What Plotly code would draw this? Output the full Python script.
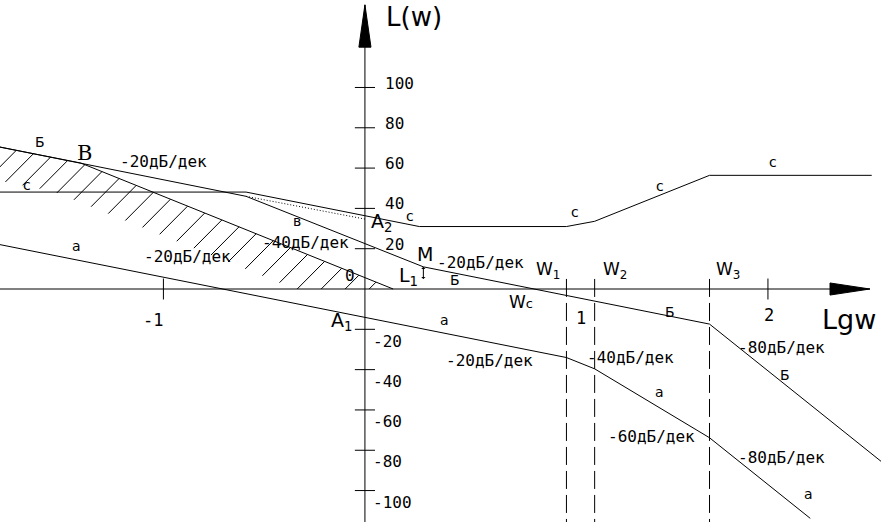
import plotly.graph_objects as go

# ---------------- data (lg w  ->  L, dB) ----------------
X_RANGE = [-1.811, 2.561]
Y_RANGE = [-115.6, 143.4]

LG_W = [1.0, 1.14, 1.71]          # W1, W2, W3
W_NAMES = ["W<sub>1</sub>", "W<sub>2</sub>", "W<sub>3</sub>"]

# curve а (initial system)
A_LG = [-1.82, 1.0, 1.14, 1.71, 2.21]
A_L = [22.2, -34.0, -39.6, -73.8, -113.8]

# curve б, low-frequency part (solid then dotted down to A2)
B_UP_LG = [-1.82, -0.59]
B_UP_L = [70.6, 46.0]
B_DOT_LG = [-0.59, 0.0]
B_DOT_L = [46.0, 34.7]

# curve в (-40 dB/dec) to M
V_LG = [-0.59, 0.29]
V_L = [46.0, 11.0]

# curve б, mid/high-frequency part
B_LO_LG = [0.29, 1.71, 2.57]
B_LO_L = [11.0, -17.4, -86.2]

# curve с (correction)
C_LG = [-1.82, -0.59, 0.27, 1.0, 1.14, 1.71, 2.515]
C_L = [48.1, 48.1, 31.0, 31.0, 33.6, 56.4, 56.4]

# boundary of the forbidden (hatched) region through B
H_LG = [-1.82, -1.41, 0.14]
H_L = [70.6, 62.5, 0.0]

# axis ticks
Y_TICKS = [100, 80, 60, 40, 20, -20, -40, -60, -80, -100]
Y_TICK_LABELS = ["100", "80", "60", "40", "20", "-20", "-40", "-60", "-80", "-100"]
X_TICKS = [-1, 2]
X_TICK_VALUES = [-1, 1, 2]
X_TICK_LABELS = ["-1", "1", "2"]

# ---------------- figure ----------------
BLACK = "black"
fig = go.Figure()

def line(xs, ys, dash="solid", width=1):
    fig.add_trace(go.Scatter(x=xs, y=ys, mode="lines",
                             line=dict(color=BLACK, width=width, dash=dash),
                             hoverinfo="skip"))

def boundary(x):
    for i in range(len(H_LG) - 1):
        x0, x1 = H_LG[i], H_LG[i + 1]
        if x0 <= x <= x1:
            return H_L[i] + (H_L[i + 1] - H_L[i]) * (x - x0) / (x1 - x0)
    return None

# hatch strokes hanging below the boundary line (45 degrees on screen)
STEP, DX, DY = 0.085, -0.139, -14.0
hx, hy = [], []
x = H_LG[0] + 0.09
while x < H_LG[-1]:
    top = boundary(x)
    if top is not None and top > 0.5:
        f = 1.0 if top + DY >= 0 else top / -DY
        hx += [x, x + DX * f, None]
        hy += [top, top + DY * f, None]
    x += STEP
fig.add_trace(go.Scatter(x=hx, y=hy, mode="lines",
                         line=dict(color=BLACK, width=1), hoverinfo="skip"))

line(H_LG, H_L)
line(A_LG, A_L)
line(B_UP_LG, B_UP_L)
line(B_DOT_LG, B_DOT_L, dash="1px,2px")
line(V_LG, V_L)
line(B_LO_LG, B_LO_L)
line(C_LG, C_L)

# axes
x_tip, x_base, x_half = 2.506, 2.308, 3.0
y_tip, y_base, y_half = 141.0, 120.0, 0.03
line([X_RANGE[0], x_tip], [0, 0])
line([0, 0], [Y_RANGE[0], y_tip])
for xs, ys in (([x_tip, x_base, x_base, x_tip], [0, x_half, -x_half, 0]),
               ([0, -y_half, y_half, 0], [y_tip, y_base, y_base, y_tip])):
    fig.add_trace(go.Scatter(x=xs, y=ys, mode="lines", fill="toself",
                             fillcolor=BLACK, line=dict(color=BLACK, width=1),
                             hoverinfo="skip"))

# tick marks
for v in Y_TICKS:
    line([-0.05, 0.05], [v, v])
for v in X_TICKS:
    line([v, v], [-5.2, 5.2])

# dashed verticals at W1, W2, W3
for w in LG_W:
    line([w, w], [5.0, Y_RANGE[0]], dash="18px,6px")

# L1 marker at M
fig.add_annotation(x=V_LG[1], y=V_L[1], ax=V_LG[1], ay=0, xref="x", yref="y",
                   axref="x", ayref="y", showarrow=True, arrowhead=1,
                   arrowside="end+start", arrowsize=0.7, arrowwidth=1,
                   arrowcolor=BLACK, text=" ")

MONO = "DejaVu Sans Mono"
SANS = "DejaVu Sans"
SERIF = "DejaVu Serif"

def txt(s, x, y, size=16, family=MONO, xanchor="center"):
    fig.add_annotation(x=x, y=y, xref="x", yref="y", text=s, showarrow=False,
                       xanchor=xanchor, yanchor="middle",
                       font=dict(family=family, size=size, color=BLACK))

# tick labels
for v, s in zip(Y_TICKS, Y_TICK_LABELS):
    if v > 0:
        txt(s, 0.088, v + 2.2, 16, xanchor="left")
    else:
        txt(s, 0.03, v - 5.8, 16, xanchor="left")
txt("0", -0.074, 6.5, 16)
for v, s, yy in zip(X_TICK_VALUES, X_TICK_LABELS, [-15.4, -14.4, -12.9]):
    txt(s, v - 0.05 if v == -1 else v + (0.072 if v == 1 else 0.005), yy, 17)

# axis titles
txt("L(w)", 0.243, 135.0, 26, SANS)
txt("Lgw", 2.40, -15.0, 27, SANS)

# slope labels
SLOPE20 = "-20дБ/дек"
txt(SLOPE20, -1.002, 63.5)
txt(SLOPE20, -0.883, 15.9)
txt("-40дБ/дек", -0.293, 23.3)
txt(SLOPE20, 0.571, 13.4)
txt(SLOPE20, 0.620, -35.7)
txt("-40дБ/дек", 1.32, -34.2)
txt("-60дБ/дек", 1.424, -73.4)
txt("-80дБ/дек", 2.065, -28.8)
txt("-80дБ/дек", 2.065, -83.4)

# curve names
for s, x, y in [("Б", -1.613, 73.0), ("с", -1.677, 51.6), ("а", -1.429, 21.3),
                ("в", -0.337, 33.7), ("с", 0.223, 36.2), ("Б", 0.447, 4.5),
                ("а", 0.397, -15.4), ("Б", 1.514, -11.4), ("с", 1.042, 38.2),
                ("с", 1.464, 51.1), ("с", 2.025, 63.0), ("Б", 2.084, -42.7),
                ("а", 1.464, -51.1), ("а", 2.199, -101.7)]:
    txt(s, x, y, 14, SANS)

# points
txt("B", -1.39, 67.5, 21, SERIF)
txt("A<sub>2</sub>", 0.084, 32.8, 19, SANS)
txt("A<sub>1</sub>", -0.114, -15.9, 19, SANS)
txt("M", 0.298, 17.4, 19, SANS)
txt("L<sub>1</sub>", 0.218, 6.0, 19, SANS)
txt("W<span style='font-size:13px'>c</span>", 0.774, -6.5, 17, SANS)
for w, name, dx in zip(LG_W, W_NAMES, [-0.092, 0.101, 0.091]):
    txt(name, w + dx, 9.4, 17, SANS)

fig.update_layout(
    width=881, height=522, margin=dict(l=0, r=0, t=0, b=0),
    paper_bgcolor="white", plot_bgcolor="white", showlegend=False,
    xaxis=dict(range=X_RANGE, visible=False, fixedrange=True),
    yaxis=dict(range=Y_RANGE, visible=False, fixedrange=True),
)
fig.write_html("out.html", config={"displayModeBar": False, "staticPlot": True},
               post_script="document.body.style.margin='0';"
                           "document.body.style.padding='0';"
                           "document.body.style.overflow='hidden';")
